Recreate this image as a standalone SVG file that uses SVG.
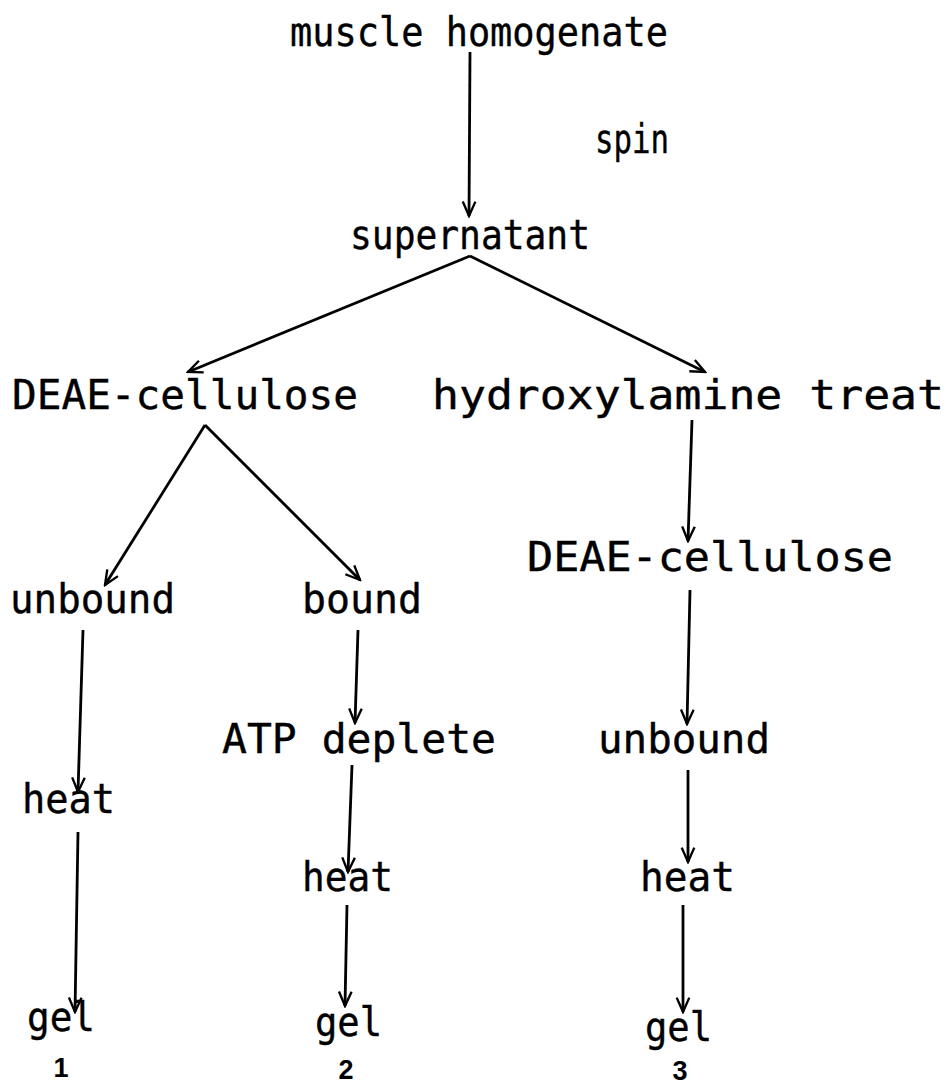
<svg xmlns="http://www.w3.org/2000/svg" width="950" height="1085" viewBox="0 0 950 1085">
<style>
.t{font-family:"DejaVu Sans Mono","Liberation Mono",monospace;font-size:40px;fill:#000;stroke:#000;stroke-width:0.4}
.n{font-family:"Liberation Sans",Arial,sans-serif;font-size:27px;font-weight:bold;fill:#000}
.c line{stroke:#000;stroke-width:2.8;fill:none;marker-end:url(#ah)}
</style>
<defs>
<marker id="ah" viewBox="0 0 20 20" refX="18" refY="10" markerWidth="18" markerHeight="18" markerUnits="userSpaceOnUse" orient="auto">
<path d="M2,3 L18,10 L2,17" fill="none" stroke="#000" stroke-width="2.6"/>
</marker>
</defs>
<rect width="950" height="1085" fill="#fff"/>
<g id="muscle"><text class="t" x="290" y="46" textLength="378" lengthAdjust="spacingAndGlyphs">muscle homogenate</text></g>
<g id="spin"><text class="t" x="595" y="153" textLength="74" lengthAdjust="spacingAndGlyphs">spin</text></g>
<g id="supernatant"><text class="t" x="350" y="249" textLength="240" lengthAdjust="spacingAndGlyphs">supernatant</text></g>
<g id="deae1"><text class="t" x="12" y="409" textLength="346" lengthAdjust="spacingAndGlyphs">DEAE-cellulose</text></g>
<g id="hydroxylamine"><text class="t" x="432" y="409" textLength="512" lengthAdjust="spacingAndGlyphs">hydroxylamine treat</text></g>
<g id="deae2"><text class="t" x="527" y="571" textLength="366" lengthAdjust="spacingAndGlyphs">DEAE-cellulose</text></g>
<g id="unbound1"><text class="t" x="10" y="613" textLength="165" lengthAdjust="spacingAndGlyphs">unbound</text></g>
<g id="bound"><text class="t" x="302" y="613" textLength="120" lengthAdjust="spacingAndGlyphs">bound</text></g>
<g id="atp"><text class="t" x="222" y="753" textLength="274" lengthAdjust="spacingAndGlyphs">ATP deplete</text></g>
<g id="unbound2"><text class="t" x="598" y="753" textLength="172" lengthAdjust="spacingAndGlyphs">unbound</text></g>
<g id="heat1"><text class="t" x="22" y="813" textLength="93" lengthAdjust="spacingAndGlyphs">heat</text></g>
<g id="heat2"><text class="t" x="302" y="891" textLength="91" lengthAdjust="spacingAndGlyphs">heat</text></g>
<g id="heat3"><text class="t" x="640" y="891" textLength="95" lengthAdjust="spacingAndGlyphs">heat</text></g>
<g id="gel1"><text class="t" x="27" y="1031" textLength="68" lengthAdjust="spacingAndGlyphs">gel</text><text class="n" x="61" y="1077" text-anchor="middle">1</text></g>
<g id="gel2"><text class="t" x="315" y="1036" textLength="67" lengthAdjust="spacingAndGlyphs">gel</text><text class="n" x="346" y="1079" text-anchor="middle">2</text></g>
<g id="gel3"><text class="t" x="645" y="1041" textLength="67" lengthAdjust="spacingAndGlyphs">gel</text><text class="n" x="680" y="1080" text-anchor="middle">3</text></g>
<g id="connectors" class="c">
<line x1="470" y1="52" x2="469" y2="216"/>
<line x1="470" y1="256" x2="188" y2="372"/>
<line x1="470" y1="256" x2="705" y2="372"/>
<line x1="205" y1="425" x2="105" y2="585"/>
<line x1="205" y1="425" x2="360" y2="580"/>
<line x1="692" y1="420" x2="688" y2="541"/>
<line x1="83" y1="630" x2="78" y2="792"/>
<line x1="358" y1="630" x2="355" y2="723"/>
<line x1="352" y1="765" x2="348" y2="872"/>
<line x1="690" y1="590" x2="687" y2="724"/>
<line x1="688" y1="770" x2="688" y2="862"/>
<line x1="78" y1="832" x2="75" y2="1012"/>
<line x1="347" y1="905" x2="345" y2="1006"/>
<line x1="683" y1="905" x2="683" y2="1012"/>
</g>
</svg>
